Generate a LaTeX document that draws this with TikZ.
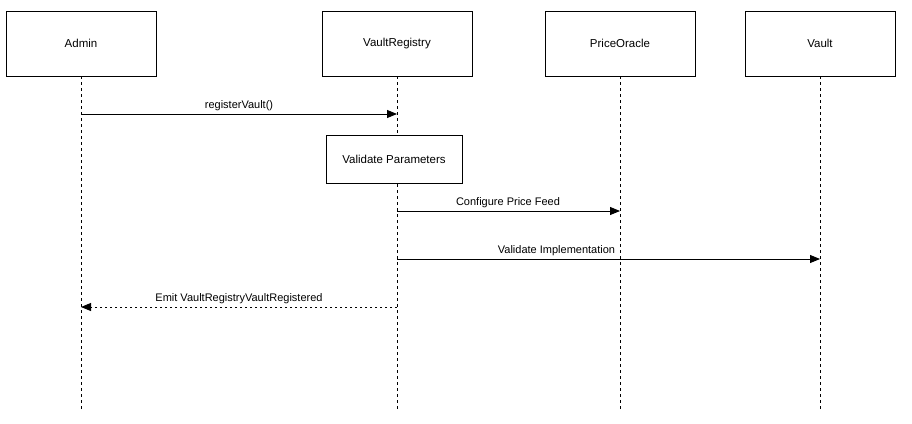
\documentclass[tikz,border=0pt]{standalone}
\usepackage{fontspec}
\setmainfont{Liberation Sans}
\usetikzlibrary{arrows.meta}
\tikzset{
  actor/.style={draw, line width=0.9pt, minimum width=150pt, minimum height=65pt, inner sep=0pt, font=\fontsize{11.5}{13}\selectfont},
  procbox/.style={draw, line width=0.9pt, minimum width=136pt, minimum height=48pt, inner sep=0pt, font=\fontsize{11.5}{13}\selectfont},
  life/.style={line width=0.9pt, dash pattern=on 3pt off 3pt},
  msg/.style={line width=0.9pt, -{Triangle[length=10pt,width=8pt]}},
  ret/.style={line width=0.9pt, dash pattern=on 2pt off 3pt, -{Triangle[length=10pt,width=8pt]}},
  lbl/.style={font=\fontsize{11}{13}\selectfont, inner sep=0pt}
}
\begin{document}
\begin{tikzpicture}[x=1pt,y=-1pt]
\useasboundingbox (0,0) rectangle (912,423);
\node[actor] (admin) at (81,43.5) {Admin};
\node[actor] (reg) at (397,43.5) {VaultRegistry};
\node[actor] (oracle) at (620,43.5) {PriceOracle};
\node[actor] (vault) at (820,43.5) {Vault};
\coordinate (adminE) at (81,410);
\coordinate (regE) at (397,410);
\coordinate (oracleE) at (620,410);
\coordinate (vaultE) at (820,410);
\draw[life] (admin.south) -- (adminE);
\draw[life] (reg.south) -- (regE);
\draw[life] (oracle.south) -- (oracleE);
\draw[life] (vault.south) -- (vaultE);
% messages
\coordinate (m1a) at (81,114); \coordinate (m1b) at (397,114);
\draw[msg] (m1a) -- (m1b);
\node[lbl] (l1) at (239,105.5) {registerVault()};
\node[procbox, fill=white] (val) at (394,159) {Validate Parameters};
\coordinate (m2a) at (397,211); \coordinate (m2b) at (620,211);
\draw[msg] (m2a) -- (m2b);
\node[lbl] (l2) at (508,202.5) {Configure Price Feed};
\coordinate (m3a) at (397,259); \coordinate (m3b) at (820,259);
\draw[msg] (m3a) -- (m3b);
\node[lbl] (l3) at (556.5,250.5) {Validate Implementation};
\coordinate (m4a) at (397,307); \coordinate (m4b) at (81,307);
\draw[ret] (m4a) -- (m4b);
\node[lbl] (l4) at (239,298.5) {Emit VaultRegistryVaultRegistered};
\end{tikzpicture}
\end{document}
